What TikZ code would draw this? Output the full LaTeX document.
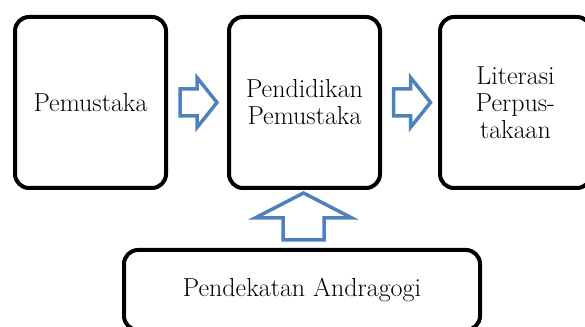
\documentclass[tikz,border=0pt]{standalone}
\usepackage{tikz}
\usetikzlibrary{calc}

\definecolor{panahbiru}{HTML}{4F81BD}
\tikzset{
  kotak/.style={draw, line width=4pt, rounded corners=14pt, inner sep=0pt,
    align=center, font=\fontsize{26}{27}\selectfont},
  panah/.style={draw=panahbiru, line width=3.5pt, fill=white, line join=miter}
}

\begin{document}
\begin{tikzpicture}[x=1pt,y=1pt]
\useasboundingbox (0,0) rectangle (585,326);
\clip (0,0) rectangle (585,326);
\node (pem) [kotak, minimum width=151pt, minimum height=171pt] at (90.5,223.5) {Pemustaka};
\node (pend) [kotak, minimum width=151pt, minimum height=171pt] at (304.5,223.5) {Pendidikan\\Pemustaka};
\node (lit) [kotak, minimum width=151pt, minimum height=171pt] at (515.5,223.5) {Literasi\\Perpus-\\takaan};
\node (andra) [kotak, minimum width=356pt, minimum height=80pt] at (302,36) {Pendekatan Andragogi};
% panah blok
\coordinate (p1) at ($(pem.east)!0.5!(pend.west)+(1,0)$);
\coordinate (p2) at ($(pend.east)!0.5!(lit.west)+(2,0)$);
\coordinate (p3) at (303.5,109.5);
\draw[panah] (p1) ++(-18.5,13.5) -- ++(17,0) -- ++(0,11.5) -- ++(20,-25) -- ++(-20,-25) -- ++(0,11.5) -- ++(-17,0) -- cycle;
\draw[panah] (p2) ++(-18.5,13.5) -- ++(17,0) -- ++(0,11.5) -- ++(20,-25) -- ++(-20,-25) -- ++(0,11.5) -- ++(-17,0) -- cycle;
\draw[panah] (p3) ++(-20.5,-23.5) -- ++(0,22) -- ++(-28,0) -- ++(48.5,25) -- ++(48.5,-25) -- ++(-28,0) -- ++(0,-22) -- cycle;
\end{tikzpicture}
\end{document}
